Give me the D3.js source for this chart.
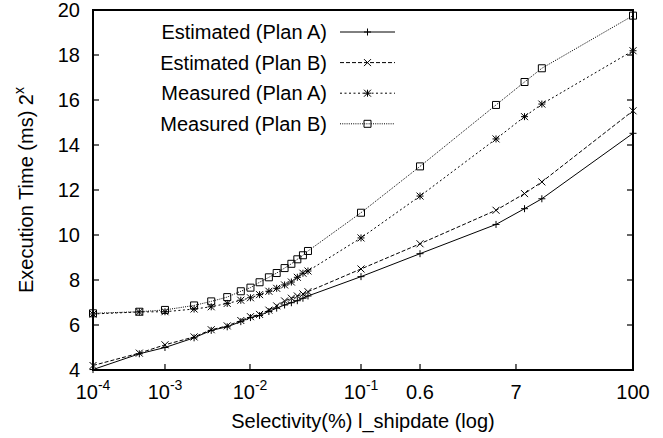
<!DOCTYPE html>
<html>
<head>
<meta charset="utf-8">
<script src="https://cdn.jsdelivr.net/npm/d3@7"></script>
<style>
  html, body { margin: 0; padding: 0; background: #fff; }
  svg { display: block; }
  text { font-family: "Liberation Sans", Arial, sans-serif; fill: #000; }
</style>
</head>
<body>
<div id="chart"></div>
<script>
// Selectivity (%) of each run and execution time (log2 ms) per plan
const selectivity = [1e-4, 4.4e-4, 1e-3, 2.2e-3, 3.5e-3, 5.4e-3, 7.8e-3, 1.01e-2, 1.22e-2, 1.48e-2,
  1.74e-2, 2.05e-2, 2.36e-2, 2.67e-2, 3.0e-2, 3.33e-2, 0.1, 0.6, 4.2, 8.5, 12.6, 100];
const estimatedA = [4.02, 4.72, 5.0, 5.43, 5.76, 5.92, 6.15, 6.33, 6.42, 6.6, 6.75, 6.89, 6.99, 7.08,
  7.19, 7.29, 8.15, 9.17, 10.47, 11.17, 11.61, 14.52];
const estimatedB = [4.2, 4.75, 5.12, 5.47, 5.79, 5.96, 6.2, 6.37, 6.47, 6.66, 6.85, 7.07, 7.19, 7.29,
  7.38, 7.48, 8.49, 9.61, 11.1, 11.84, 12.36, 15.52];
const measuredA = [6.49, 6.58, 6.59, 6.71, 6.81, 6.96, 7.10, 7.21, 7.35, 7.50, 7.63, 7.78, 7.91, 8.12,
  8.30, 8.40, 9.87, 11.73, 14.27, 15.26, 15.82, 18.19];
const measuredB = [6.52, 6.59, 6.67, 6.87, 7.05, 7.24, 7.50, 7.66, 7.90, 8.12, 8.31, 8.53, 8.72, 8.92,
  9.10, 9.29, 10.99, 13.05, 15.78, 16.8, 17.41, 19.75];

const seriesNames = ["Estimated (Plan A)", "Estimated (Plan B)", "Measured (Plan A)", "Measured (Plan B)"];

// Axis ticks
const xTickValues = [1e-4, 1e-3, 1e-2, 1e-1, 0.6, 7, 100];
const xTickLabels = [["10", "-4"], ["10", "-3"], ["10", "-2"], ["10", "-1"], ["0.6", ""], ["7", ""], ["100", ""]];
const yTickValues = [4, 6, 8, 10, 12, 14, 16, 18, 20];

const W = 663, H = 438;
const margin = { left: 93, top: 10, right: 30, bottom: 68 };
const pw = W - margin.left - margin.right;
const ph = H - margin.top - margin.bottom;
const FS = 20, SUP = 14;

// Piecewise log axis: each labelled value sits at a fixed fraction of the width
const xStops = [0, 0.1333, 0.2907, 0.4963, 0.6056, 0.7833, 1];
const x = d3.scaleLog()
  .domain(xTickValues)
  .range(xStops.map(f => margin.left + f * pw));
const y = d3.scaleLinear().domain([4, 20]).range([margin.top + ph, margin.top]);

const svg = d3.select("#chart").append("svg")
  .attr("width", W).attr("height", H);

const styles = [
  { dash: null, marker: "plus" },
  { dash: "4,2", marker: "cross" },
  { dash: "2,2.5", marker: "star" },
  { dash: "1,1.2", marker: "square" }
];
const seriesValues = [estimatedA, estimatedB, measuredA, measuredB];

function markerPath(kind, r) {
  const plus = `M${-r},0H${r}M0,${-r}V${r}`;
  const cross = `M${-r},${-r}L${r},${r}M${-r},${r}L${r},${-r}`;
  if (kind === "plus") return plus;
  if (kind === "cross") return cross;
  if (kind === "star") return plus + cross;
  return `M${-r},${-r}H${r}V${r}H${-r}Z`;
}

// Axes: ticks drawn inward, labels placed beside
const bottom = margin.top + ph;
const tickG = svg.append("g").attr("stroke", "#000").attr("stroke-width", 1.2);
yTickValues.forEach(v => {
  tickG.append("line").attr("x1", margin.left).attr("x2", margin.left + 6)
    .attr("y1", y(v)).attr("y2", y(v));
  tickG.append("line").attr("x1", margin.left + pw).attr("x2", margin.left + pw - 6)
    .attr("y1", y(v)).attr("y2", y(v));
});
xTickValues.forEach(v => {
  tickG.append("line").attr("x1", x(v)).attr("x2", x(v))
    .attr("y1", bottom).attr("y2", bottom - 6);
});

svg.append("g").selectAll("text").data(yTickValues).join("text")
  .attr("x", margin.left - 13).attr("y", d => y(d)).attr("dy", "0.35em")
  .attr("text-anchor", "end").attr("font-size", FS).text(d => d);

const xl = svg.append("g").selectAll("text").data(xTickValues).join("text")
  .attr("x", d => x(d)).attr("y", bottom + 29)
  .attr("text-anchor", "middle").attr("font-size", FS);
xl.each(function (d, i) {
  const t = d3.select(this);
  const [base, sup] = xTickLabels[i];
  t.append("tspan").text(base);
  if (sup) t.append("tspan").attr("dy", -9).attr("font-size", SUP).text(sup);
});

// Axis titles
svg.append("text").attr("x", margin.left + pw / 2).attr("y", 428)
  .attr("text-anchor", "middle").attr("font-size", FS)
  .text("Selectivity(%) l_shipdate (log)");

const yt = svg.append("text")
  .attr("transform", `translate(33,${margin.top + ph / 2}) rotate(-90)`)
  .attr("text-anchor", "middle").attr("font-size", FS);
yt.append("tspan").text("Execution Time (ms) 2");
yt.append("tspan").attr("dy", -9).attr("font-size", SUP).text("x");

// Data series
const line = d3.line().x((d, i) => x(selectivity[i])).y(d => y(d));
seriesValues.forEach((vals, s) => {
  const st = styles[s];
  svg.append("path").datum(vals)
    .attr("d", line).attr("fill", "none").attr("stroke", "#000")
    .attr("stroke-width", 1).attr("stroke-dasharray", st.dash);
  svg.append("g").selectAll("path").data(vals).join("path")
    .attr("transform", (d, i) => `translate(${x(selectivity[i])},${y(d)})`)
    .attr("d", markerPath(st.marker, 3.5))
    .attr("fill", "none").attr("stroke", "#000").attr("stroke-width", 1);
});

// Legend
const legend = svg.append("g");
seriesNames.forEach((name, s) => {
  const ly = 32 + s * 30.6;
  const st = styles[s];
  legend.append("text").attr("x", 327).attr("y", ly).attr("dy", "0.35em")
    .attr("text-anchor", "end").attr("font-size", FS).text(name);
  legend.append("line").attr("x1", 340).attr("x2", 395).attr("y1", ly).attr("y2", ly)
    .attr("stroke", "#000").attr("stroke-width", 1).attr("stroke-dasharray", st.dash);
  legend.append("path").attr("transform", `translate(367.5,${ly})`)
    .attr("d", markerPath(st.marker, 3.5))
    .attr("fill", "none").attr("stroke", "#000").attr("stroke-width", 1);
});

// Plot frame
svg.append("rect").attr("x", margin.left).attr("y", margin.top)
  .attr("width", pw).attr("height", ph)
  .attr("fill", "none").attr("stroke", "#000").attr("stroke-width", 2);
</script>
</body>
</html>
